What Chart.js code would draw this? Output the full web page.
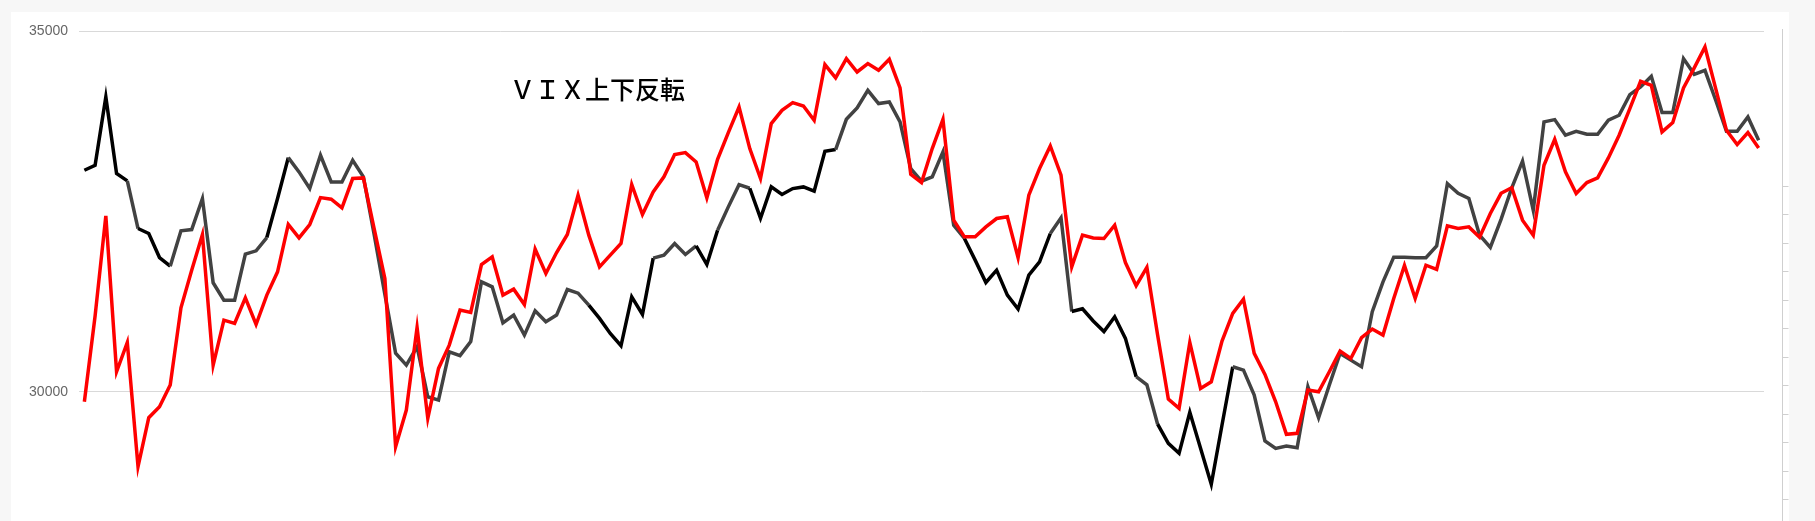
<!DOCTYPE html>
<html>
<head>
<meta charset="utf-8">
<script src="https://cdn.jsdelivr.net/npm/chart.js@4.4.0/dist/chart.umd.min.js"></script>
<style>
  html, body { margin: 0; padding: 0; overflow: hidden; background: #f7f7f7; }
  #panel { position: absolute; left: 11px; top: 12px; width: 1778px; height: 600px; background: #fff; }
  #myChart { position: absolute; left: 0; top: 0; }
  #title { position: absolute; left: 510px; top: 76px; font-family: "Noto Sans CJK JP", sans-serif; font-size: 25px; font-weight: 500; line-height: 1; color: #000; white-space: nowrap; }
</style>
</head>
<body>
<div id="panel"><canvas id="myChart" width="1778" height="524"></canvas></div>
<div id="title">ＶＩＸ上下反転</div>
<script>
// data (one value per trading day)
var days = [];
for (var d = 1; d <= 157; d++) days.push(String(d));

var blackValues = [
  33070, 33139, 34086, 33024, 32922, 32262, 32193, 31860, 31740, 32230,
  32248, 32678, 31510, 31269, 31269, 31907, 31953, 32137, 32678, 33245,
  33047, 32816, 33278, 32908, 32908, 33209, 32978, 32180, 31350, 30535,
  30369, 30623, 29930, 29884, 30554, 30500, 30697, 31523, 31454, 30955,
  31062, 30785, 31122, 30969, 31062, 31417, 31366, 31200, 31016, 30808,
  30637, 31316, 31071, 31851, 31893, 32054, 31902, 32022, 31763, 32239,
  32562, 32870, 32820, 32405, 32839, 32733, 32816, 32839, 32779, 33333,
  33356, 33776, 33933, 34178, 33994, 34017, 33740, 33093, 32918, 32978,
  33324, 32308, 32124, 31824, 31514, 31685, 31339, 31145, 31616, 31800,
  32193, 32410, 31112, 31150, 30980, 30835, 31039, 30739, 30208, 30096,
  29550, 29284, 29146, 29714, 29215, 28716, 29538, 30346, 30300, 29954,
  29317, 29215, 29247, 29224, 30069, 29640, 30092, 30531, 30438, 30346,
  31108, 31523, 31865, 31865, 31858, 31858, 32020, 32885, 32750, 32678,
  32170, 32000, 32390, 32825, 33195, 32516, 33740, 33772, 33555, 33610,
  33569, 33569, 33763, 33832, 34118, 34224, 34372, 33869, 33869, 34617,
  34400, 34455, 34040, 33610, 33610, 33809, 33486
];

var redValues = [
  29861, 31050, 32438, 30277, 30683, 28961, 29640, 29792, 30092, 31163,
  31685, 32179, 30369, 30992, 30946, 31302, 30932, 31339, 31662, 32318,
  32133, 32318, 32691, 32668, 32548, 32955, 32964, 32262, 31570, 29238,
  29746, 30890, 29630, 30323, 30646, 31131, 31099, 31763, 31870, 31339,
  31422, 31209, 31976, 31639, 31930, 32179, 32724, 32170, 31731, 31893,
  32054, 32872, 32456, 32770, 32978, 33287, 33315, 33186, 32687, 33222,
  33592, 33947, 33370, 32955, 33716, 33901, 34007, 33961, 33763, 34534,
  34349, 34617, 34432, 34548, 34455, 34608, 34210, 33015, 32899, 33370,
  33776, 32378, 32147, 32147, 32285, 32401, 32424, 31856, 32724, 33093,
  33407, 33001, 31731, 32170, 32130, 32124, 32308, 31790, 31470, 31724,
  30785, 29898, 29769, 30683, 30046, 30138, 30702, 31085, 31283, 30531,
  30240, 29861, 29409, 29423, 30023, 30000, 30277, 30563, 30461, 30748,
  30868, 30785, 31293, 31750, 31293, 31754, 31697, 32300, 32262, 32285,
  32142, 32470, 32750, 32828, 32378, 32170, 33139, 33499, 33047, 32747,
  32899, 32964, 33241, 33555, 33924, 34303, 34247, 33601, 33730, 34210,
  34488, 34778, 34201, 33624, 33426, 33592, 33379
];

var yTicks = [30000, 35000];
var rightTicks = [0, 1, 2, 3, 4, 5, 6, 7, 8, 9, 10, 11];

// segments of the black line drawn in pure black, the rest is dark grey
var darkRuns = [[0, 3], [5, 7], [17, 18], [47, 52], [57, 58], [62, 69], [82, 89], [92, 97], [100, 106]];
function isDark(i) {
    for (var k = 0; k < darkRuns.length; k++) {
        if (i >= darkRuns[k][0] && i <= darkRuns[k][1]) return true;
    }
    return false;
}

// thin axis with tick marks on the right edge
var rightAxis = {
    id: 'rightAxis',
    afterDraw: function (chart) {
        var ctx = chart.ctx;
        var s = chart.scales.y2;
        var x = Math.round(chart.chartArea.right + 18) + 0.5;
        ctx.save();
        ctx.strokeStyle = '#cfcfcf';
        ctx.lineWidth = 1;
        ctx.beginPath();
        ctx.moveTo(x, s.top - 2);
        ctx.lineTo(x, s.bottom);
        rightTicks.forEach(function (v) {
            var y = Math.round(s.getPixelForValue(v)) + 0.5;
            ctx.moveTo(x, y);
            ctx.lineTo(x + 6, y);
        });
        ctx.stroke();
        ctx.restore();
    }
};

var ctx = document.getElementById('myChart').getContext('2d');
var chart = new Chart(ctx, {
    type: 'line',
    data: {
        labels: days,
        datasets: [
            {
                label: 'VIX上下反転',
                data: redValues,
                borderColor: '#ff0000',
                borderWidth: 3.5,
                pointRadius: 0,
                tension: 0,
                order: 0
            },
            {
                label: '日経平均',
                data: blackValues,
                borderColor: '#000000',
                borderWidth: 3.5,
                pointRadius: 0,
                tension: 0,
                order: 1,
                segment: {
                    borderColor: function (c) { return isDark(c.p0DataIndex) ? '#000000' : '#424242'; }
                }
            }
        ]
    },
    options: {
        responsive: false,
        animation: false,
        layout: { padding: { top: 19, right: 25, left: 0, bottom: 0 } },
        plugins: {
            legend: { display: false },
            tooltip: { enabled: false }
        },
        scales: {
            x: { display: false, offset: true },
            y: {
                min: 28000,
                max: 35000,
                afterBuildTicks: function (s) { s.ticks = yTicks.map(function (v) { return { value: v }; }); },
                afterFit: function (s) { s.width = 68; s.paddingTop = 0; s.paddingBottom = 0; },
                border: { display: false },
                grid: { color: '#d9d9d9', drawTicks: false },
                ticks: {
                    padding: 11,
                    color: '#666',
                    font: { family: "'Liberation Sans', Arial, sans-serif", size: 14 },
                    callback: function (v) { return String(v); }
                }
            },
            y2: { position: 'right', display: false, min: -1.29, max: 16.44 }
        }
    },
    plugins: [rightAxis]
});
</script>
</body>
</html>
